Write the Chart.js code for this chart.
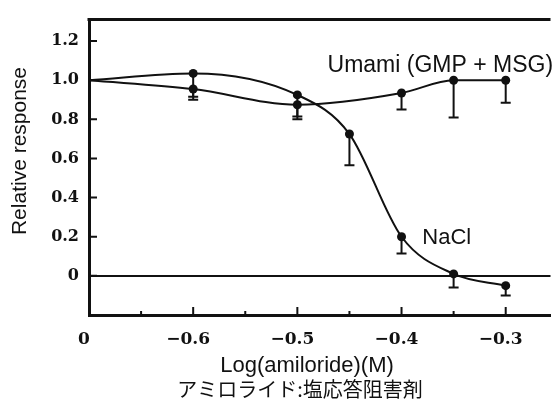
<!DOCTYPE html>
<html>
<head>
<meta charset="utf-8">
<script src="https://cdn.jsdelivr.net/npm/chart.js@4.4.0/dist/chart.umd.min.js"></script>
<style>
  html, body { margin: 0; padding: 0; background: #fff; }
  #wrap { width: 555px; height: 403px; }
</style>
</head>
<body>
<div id="wrap"><canvas id="chart"></canvas></div>
<script>
// log(amiloride) doses; -0.7 stands for the no-amiloride control, shown as "0"
const naclDoses = [-0.7, -0.6, -0.5, -0.45, -0.4, -0.35, -0.3];
const naclResponse = [1.0, 1.035, 0.925, 0.725, 0.2, 0.01, -0.05];
const naclErrLow = [null, 0.915, 0.815, 0.565, 0.115, -0.06, -0.1];

const umamiDoses = [-0.7, -0.6, -0.5, -0.4, -0.35, -0.3];
const umamiResponse = [1.0, 0.955, 0.875, 0.935, 1.0, 1.0];
const umamiErrLow = [null, 0.9, 0.8, 0.85, 0.81, 0.885];

const xTicks = [-0.7, -0.6, -0.5, -0.4, -0.3];
const xMinorTicks = [-0.65, -0.55, -0.45, -0.35];
const yTicks = [0, 0.2, 0.4, 0.6, 0.8, 1.0, 1.2];

const sans = "'Liberation Sans', Arial, 'Noto Sans CJK JP', sans-serif";
const serif = "'DejaVu Serif', serif";
const ink = '#111';

const toPoints = (xs, ys) => xs.map((x, i) => ({ x: x, y: ys[i] }));

// error bars, inward tick marks, top frame line and the text labels
const extras = {
  id: 'extras',
  afterDatasetsDraw(chart) {
    const { ctx, chartArea: a } = chart;
    const xs = chart.scales.x, ys = chart.scales.y;
    ctx.save();
    ctx.strokeStyle = ink;
    ctx.lineWidth = 2;

    const bars = [[naclDoses, naclResponse, naclErrLow], [umamiDoses, umamiResponse, umamiErrLow]];
    bars.forEach(([d, v, lo]) => {
      d.forEach((dose, i) => {
        if (lo[i] == null) return;
        const px = xs.getPixelForValue(dose);
        const y1 = ys.getPixelForValue(v[i]);
        const y2 = ys.getPixelForValue(lo[i]);
        ctx.beginPath();
        ctx.moveTo(px, y1); ctx.lineTo(px, y2);
        ctx.moveTo(px - 5, y2); ctx.lineTo(px + 5, y2);
        ctx.stroke();
      });
    });

    // top frame
    ctx.lineWidth = 3;
    ctx.beginPath();
    ctx.moveTo(a.left - 1.5, a.top); ctx.lineTo(a.right, a.top);
    ctx.stroke();

    // ticks pointing into the plot
    ctx.lineWidth = 2;
    ctx.beginPath();
    yTicks.forEach(v => {
      const py = ys.getPixelForValue(v);
      ctx.moveTo(a.left, py); ctx.lineTo(a.left + 8, py);
    });
    xTicks.slice(1).forEach(v => {
      const px = xs.getPixelForValue(v);
      ctx.moveTo(px, a.bottom); ctx.lineTo(px, a.bottom - 8);
    });
    xMinorTicks.forEach(v => {
      const px = xs.getPixelForValue(v);
      ctx.moveTo(px, a.bottom); ctx.lineTo(px, a.bottom - 4);
    });
    ctx.stroke();

    ctx.fillStyle = ink;
    ctx.textBaseline = 'middle';
    ctx.textAlign = 'left';
    ctx.font = '23px ' + sans;
    ctx.fillText('Umami (GMP + MSG)', xs.getPixelForValue(-0.471), ys.getPixelForValue(1.075));
    ctx.font = '22px ' + sans;
    ctx.fillText('NaCl', xs.getPixelForValue(-0.38), ys.getPixelForValue(0.195));

    ctx.textAlign = 'center';
    ctx.font = '22px ' + sans;
    ctx.fillText('Log(amiloride)(M)', 307, 366);
    ctx.font = "20px 'Noto Sans CJK JP', sans-serif";
    ctx.fillText('アミロライド:塩応答阻害剤', 300, 389);

    ctx.translate(20, 151);
    ctx.rotate(-Math.PI / 2);
    ctx.font = '21px ' + sans;
    ctx.fillText('Relative response', 0, 0);
    ctx.restore();
  }
};

new Chart(document.getElementById('chart'), {
  type: 'line',
  data: {
    datasets: [
      {
        label: 'NaCl',
        data: toPoints(naclDoses, naclResponse),
        borderColor: ink,
        backgroundColor: ink,
        borderWidth: 2,
        cubicInterpolationMode: 'monotone',
        pointRadius: ctx => ctx.dataIndex === 0 ? 0 : 4.5,
        pointBorderWidth: 0,
        fill: false
      },
      {
        label: 'Umami (GMP + MSG)',
        data: toPoints(umamiDoses, umamiResponse),
        borderColor: ink,
        backgroundColor: ink,
        borderWidth: 2,
        cubicInterpolationMode: 'monotone',
        pointRadius: ctx => ctx.dataIndex === 0 ? 0 : 4.5,
        pointBorderWidth: 0,
        fill: false
      }
    ]
  },
  options: {
    responsive: true,
    maintainAspectRatio: false,
    animation: false,
    layout: { padding: { top: 14, right: 0, bottom: 0, left: 0 } },
    plugins: {
      legend: { display: false },
      tooltip: { enabled: false }
    },
    scales: {
      x: {
        type: 'linear',
        min: -0.7,
        max: -0.257,
        afterBuildTicks: s => { s.ticks = xTicks.map(v => ({ value: v })); },
        afterFit: s => { s.height = 88; },
        border: { color: ink, width: 3 },
        grid: { display: false, drawTicks: false },
        ticks: {
          padding: 14,
          labelOffset: -5,
          color: ink,
          font: { family: serif, size: 17, weight: 'bold' },
          callback: v => v === -0.7 ? '0' : '\u2212' + Math.abs(v).toFixed(1)
        }
      },
      y: {
        min: -0.2,
        max: 1.31,
        afterBuildTicks: s => { s.ticks = yTicks.map(v => ({ value: v })); },
        afterFit: s => { s.width = 89; },
        border: { color: ink, width: 3 },
        grid: {
          drawTicks: false,
          color: c => c.tick && c.tick.value === 0 ? ink : 'rgba(0,0,0,0)',
          lineWidth: 2
        },
        ticks: {
          padding: 10,
          color: ink,
          font: { family: serif, size: 16, weight: 'bold' },
          callback: v => v === 0 ? '0' : v.toFixed(1)
        }
      }
    }
  },
  plugins: [extras]
});
</script>
</body>
</html>
